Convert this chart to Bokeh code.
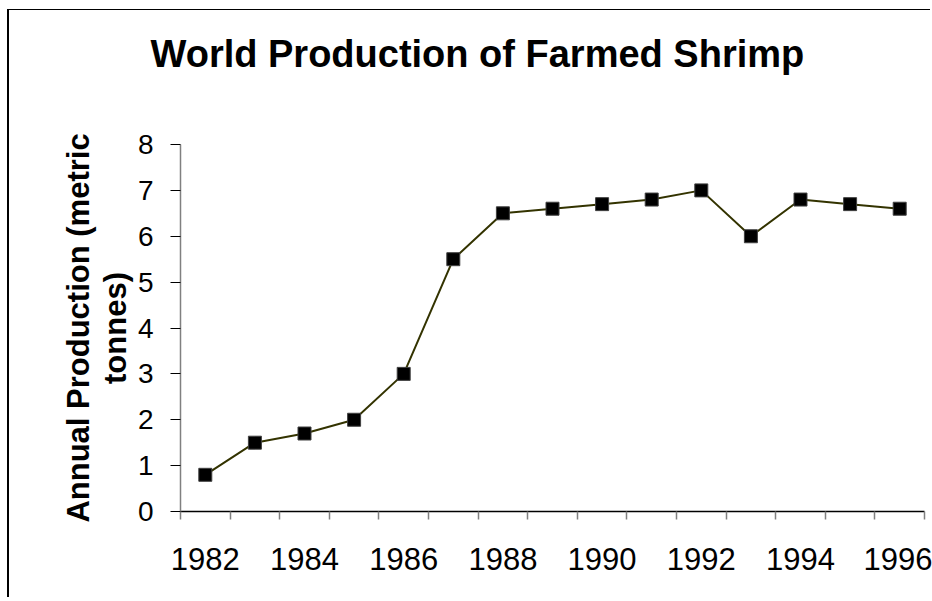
from bokeh.plotting import figure
from bokeh.models import Range1d, FixedTicker, BasicTickFormatter, Title
from bokeh.embed import file_html
from bokeh.resources import INLINE

# ---- data ----
years = [1982, 1983, 1984, 1985, 1986, 1987, 1988, 1989, 1990, 1991, 1992, 1993, 1994, 1995, 1996]
production = [0.8, 1.5, 1.7, 2.0, 3.0, 5.5, 6.5, 6.6, 6.7, 6.8, 7.0, 6.0, 6.8, 6.7, 6.6]
x_tick_labels = years[::2]
y_ticks = [0, 1, 2, 3, 4, 5, 6, 7, 8]
title_text = "World Production of Farmed Shrimp"
y_label = "Annual Production (metric\ntonnes)"

FONT = "Liberation Sans"

p = figure(width=923, height=588, output_backend="svg", toolbar_location=None,
           x_range=Range1d(years[0] - 0.5, years[-1] + 0.5),
           y_range=Range1d(y_ticks[0], y_ticks[-1]),
           min_border_left=171, min_border_right=8,
           min_border_top=134, min_border_bottom=87)
# chart-area border (left and top edges) drawn as a shadow so the box size is unchanged
p.styles = {"margin-left": "9px", "margin-top": "10px",
            "box-shadow": "-2px -1px 0px 0px #000000"}
p.outline_line_color = None
p.xgrid.grid_line_color = None
p.ygrid.grid_line_color = None
p.background_fill_color = "white"
p.border_fill_color = "white"
p.title.visible = False

# gap between the frame and the chart title (first "above" item sits nearest the frame)
gap = Title(text=" ", text_font_size="1px", standoff=62, text_color="white")
p.add_layout(gap, "above")
main_title = Title(text=title_text, align="left", offset=-30, standoff=10,
                   text_font=FONT, text_font_style="bold", text_font_size="38px",
                   text_color="black")
p.add_layout(main_title, "above")

p.line(years, production, line_color="#333300", line_width=2)
p.scatter(years, production, marker="square", size=13,
          fill_color="black", line_color="#404040", line_width=1)

# x axis (category-like: ticks between years, labels every other year)
xa = p.xaxis[0]
xa.ticker = FixedTicker(ticks=x_tick_labels,
                        minor_ticks=[y - 0.5 for y in years] + [years[-1] + 0.5])
xa.formatter = BasicTickFormatter(use_scientific=False)
xa.axis_line_color = "black"
xa.axis_line_width = 1.5
xa.major_tick_line_color = None
xa.major_tick_out = 0
xa.major_tick_in = 0
xa.minor_tick_line_color = "#808080"
xa.minor_tick_line_width = 1.5
xa.minor_tick_out = 8
xa.minor_tick_in = 0
xa.major_label_text_font = FONT
xa.major_label_text_font_size = "31px"
xa.major_label_text_color = "black"
xa.major_label_standoff = 28

# y axis
ya = p.yaxis[0]
ya.ticker = FixedTicker(ticks=y_ticks)
ya.axis_line_color = "#808080"
ya.axis_line_width = 1.5
ya.major_tick_line_color = "black"
ya.major_tick_out = 10
ya.major_tick_in = 0
ya.minor_tick_line_color = None
ya.major_label_text_font = FONT
ya.major_label_text_font_size = "28px"
ya.major_label_text_color = "black"
ya.major_label_standoff = 17
ya.axis_label = y_label
ya.axis_label_text_font = FONT
ya.axis_label_text_font_style = "bold"
ya.axis_label_text_font_size = "31px"
ya.axis_label_text_color = "black"
ya.axis_label_text_line_height = 1.05
ya.axis_label_standoff = 2

open("out.html", "w").write(file_html(p, INLINE))
